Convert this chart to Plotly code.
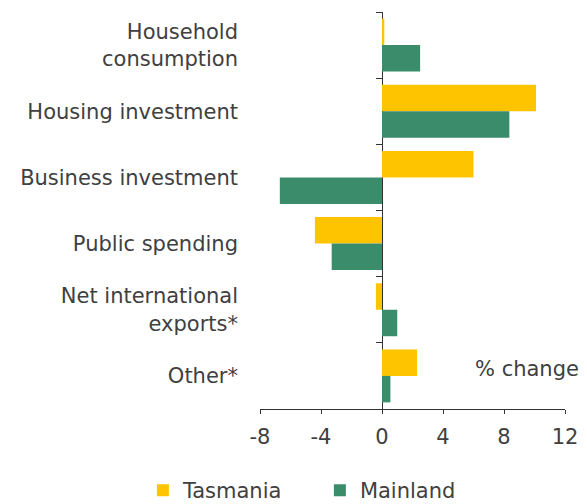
import plotly.graph_objects as go

categories = ["Household<br>consumption", "Housing investment", "Business investment",
              "Public spending", "Net international<br>exports*", "Other*"]
tasmania = [0.15, 10.1, 6.0, -4.4, -0.4, 2.3]
mainland = [2.5, 8.35, -6.7, -3.3, 1.0, 0.55]
x_ticks = [-8, -4, 0, 4, 8, 12]
x_ticktext = ["-8", "-4", "0", "4", "8", "12"]

FONT = "DejaVu Sans"
TXT = "#404040"
FS = 21

fig = go.Figure()

fig.add_trace(go.Bar(
    y=categories, x=tasmania, orientation="h", name="Tasmania",
    marker=dict(color="#FFC400", line=dict(width=0)),
))
fig.add_trace(go.Bar(
    y=categories, x=mainland, orientation="h", name="Mainland",
    marker=dict(color="#3A8C6B", line=dict(width=0)),
))

# invisible trace so the category-boundary tick axis at x=0 gets drawn
fig.add_trace(go.Scatter(
    x=[None], y=[None], yaxis="y2", showlegend=False, hoverinfo="skip",
))

boundaries = [i - 0.5 for i in range(len(categories) + 1)]

fig.update_layout(
    width=587, height=504,
    margin=dict(l=252, r=30, t=4, b=103, autoexpand=False),
    paper_bgcolor="white", plot_bgcolor="white",
    font=dict(family=FONT, size=FS, color=TXT),
    barmode="group", bargap=0.2, bargroupgap=0,
    showlegend=True,
    legend=dict(orientation="h", x=-0.384, xanchor="left", y=-0.154, yanchor="top",
                entrywidth=132, font=dict(size=FS, color=TXT)),
    xaxis=dict(range=[-8, 12], tickvals=x_ticks, ticktext=x_ticktext, domain=[0, 1],
               showline=True, linecolor="#333333", linewidth=1, automargin=False,
               ticks="outside", ticklen=4, tickcolor="#333333", ticklabelstandoff=5,
               showgrid=False, zeroline=True, zerolinecolor="#333333", zerolinewidth=1,
               tickfont=dict(size=FS, color=TXT)),
    yaxis=dict(type="category", categoryarray=categories, range=[5.5, -0.5],
               showline=False, ticks="", showgrid=False, automargin=False,
               ticklabelstandoff=21, tickfont=dict(size=FS, color=TXT)),
    yaxis2=dict(overlaying="y", anchor="free", position=0.4, range=[5.5, -0.5],
                tickvals=boundaries, ticks="outside", ticklen=6, tickcolor="#333333",
                showticklabels=False, showline=False, showgrid=False, zeroline=False),
    annotations=[dict(text="% change", x=9.5, xref="x", y=0.065, yref="paper",
                      showarrow=False, font=dict(size=FS, color=TXT))],
)

fig.write_html("out.html")
